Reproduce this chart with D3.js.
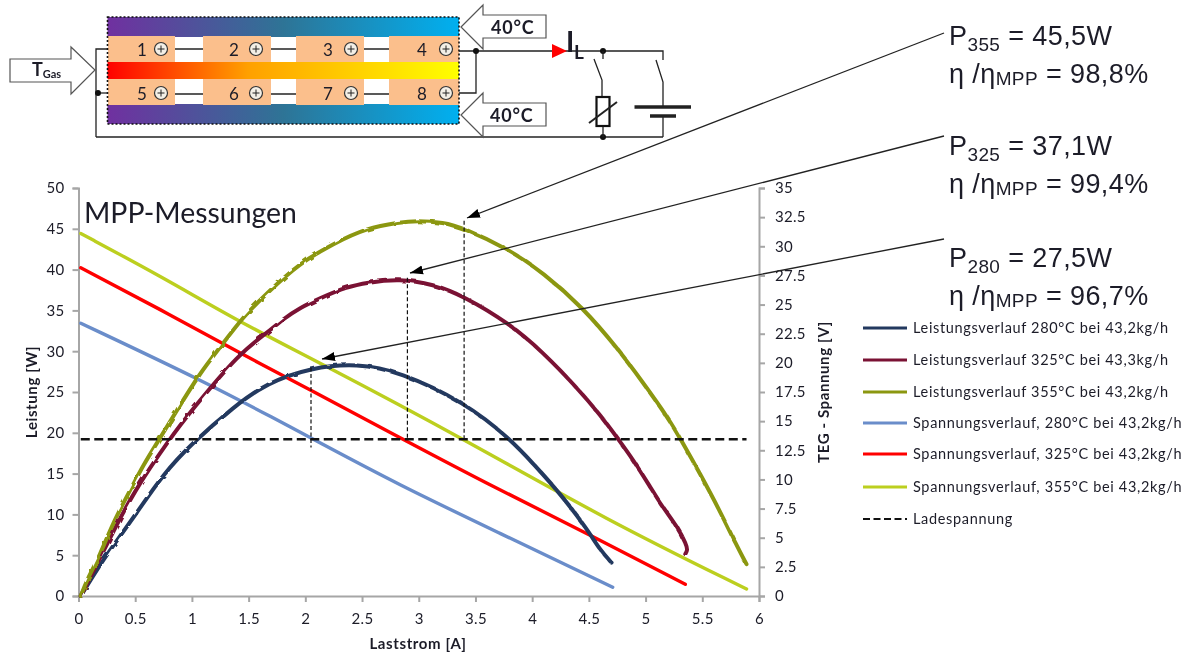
<!DOCTYPE html>
<html>
<head>
<meta charset="utf-8">
<script src="https://cdn.jsdelivr.net/npm/d3@7"></script>
<style>
  html, body { margin: 0; background: #fff; }
  svg { display: block; filter: blur(0.35px); }
  text { font-family: Lato, "Open Sans", sans-serif; fill: #1c1c28; }
  text.note { font-family: "Liberation Sans", sans-serif; }
  .domain, .tick line { stroke: #a6a6a6; stroke-width: 2; }
</style>
</head>
<body>
<svg id="chart" width="1190" height="657"></svg>
<script>
// power curves, left axis [W]
var i280 = [0.02, 0.16, 0.31, 0.5, 0.75, 1.0, 1.37, 1.66, 2.05, 2.46, 2.83, 3.4, 3.82, 4.02, 4.245, 4.49, 4.6, 4.7];
var p280 = [0, 3.2, 6.25, 9.9, 15.0, 18.7, 23.2, 26.1, 28.0, 28.5, 27.5, 23.8, 19.1, 16.05, 12.6, 8.1, 5.6, 4.1];
var i325 = [0.02, 0.18, 0.3, 0.48, 0.8, 1.0, 1.42, 1.66, 1.8, 1.95, 2.13, 2.37, 2.54, 2.83, 3.13, 3.39, 3.8, 4.1, 4.39, 4.6, 4.76, 4.89, 5.04, 5.15, 5.28, 5.36, 5.37, 5.35];
var p325 = [0, 4.4, 7.7, 12.6, 19.2, 22.8, 29.8, 32.2, 33.9, 35.3, 36.5, 37.9, 38.4, 38.9, 38.2, 36.8, 33.4, 29.8, 25.6, 22.2, 19.2, 16.7, 13.4, 10.9, 8.5, 6.3, 5.6, 5.15];
var i355 = [0.02, 0.075, 0.19, 0.3, 0.48, 0.57, 0.69, 0.87, 1.07, 1.25, 1.45, 1.66, 1.95, 2.25, 2.54, 2.83, 2.98, 3.22, 3.39, 3.78, 4.1, 4.45, 4.75, 4.98, 5.2, 5.31, 5.48, 5.66, 5.8, 5.89];
var p355 = [0, 2.0, 5.0, 8.9, 13.6, 16, 18.7, 22.8, 27.3, 30.5, 34.2, 37.1, 40.8, 43.2, 45.1, 45.8, 46.0, 45.8, 45.1, 42.6, 39.6, 35.3, 30.4, 26.1, 21.8, 19.2, 15, 10.3, 6.25, 3.9];

// voltage curves, right axis [V]
var iv280 = [0.02, 1.13, 1.75, 2.06, 2.83, 3.69, 4.71];
var v280 = [23.4, 18.3, 15.1, 13.5, 9.5, 5.5, 0.75];
var iv325 = [0.02, 0.72, 1.42, 2.04, 2.86, 3.66, 4.48, 5.35];
var v325 = [28.15, 24.6, 20.85, 17.7, 13.45, 9.35, 5.4, 1.0];
var iv355 = [0.02, 0.75, 1.42, 2.13, 3.4, 4.66, 5.89];
var v355 = [31.1, 27.3, 23.5, 20.0, 13.45, 6.5, 0.6];
var iLade = [0.02, 5.89];
var vLade = [13.45, 13.45];

var leftTicks = [0, 5, 10, 15, 20, 25, 30, 35, 40, 45, 50];
var rightTicks = [0, 2.5, 5, 7.5, 10, 12.5, 15, 17.5, 20, 22.5, 25, 27.5, 30, 32.5, 35];
var xTicks = [0, 0.5, 1, 1.5, 2, 2.5, 3, 3.5, 4, 4.5, 5, 5.5, 6];

var legendNames = [
  "Leistungsverlauf 280°C bei 43,2kg/h",
  "Leistungsverlauf 325°C bei 43,3kg/h",
  "Leistungsverlauf 355°C bei 43,2kg/h",
  "Spannungsverlauf, 280°C bei 43,2kg/h",
  "Spannungsverlauf, 325°C bei 43,2kg/h",
  "Spannungsverlauf, 355°C bei 43,2kg/h",
  "Ladespannung"
];
var seriesColors = ["#23395f", "#7a1234", "#8b9710", "#6a8dca", "#ff0000", "#bccf1f", "#111111"];

// MPP drop lines: current, top [W], bottom [W]
var mppI = [2.05, 2.9, 3.4];
var mppTop = [28.0, 39.0, 46.0];
var mppBottom = [18.2, 19.2, 19.2];

var notes = [
  { sub: "355", p: " = 45,5W", eta: " = 98,8%" },
  { sub: "325", p: " = 37,1W", eta: " = 99,4%" },
  { sub: "280", p: " = 27,5W", eta: " = 96,7%" }
];

var svg = d3.select("#chart");

var x = d3.scaleLinear().domain([0, 6]).range([78.5, 759]);
var yL = d3.scaleLinear().domain([0, 50]).range([596, 188]);
var yR = d3.scaleLinear().domain([0, 35]).range([596, 188]);

var defs = svg.append("defs");

function gradient(id, stops) {
  var g = defs.append("linearGradient").attr("id", id);
  stops.forEach(function(s) {
    g.append("stop").attr("offset", s[0]).attr("stop-color", s[1]);
  });
}
gradient("cold", [["0%", "#7030a0"], ["50%", "#2e7496"], ["100%", "#00b0f0"]]);
gradient("hot", [["0%", "#ff0000"], ["40%", "#ffa000"], ["100%", "#ffff00"]]);

// measured curves are a bit stepped
var rough = defs.append("filter").attr("id", "rough")
  .attr("filterUnits", "userSpaceOnUse")
  .attr("color-interpolation-filters", "sRGB")
  .attr("x", 0).attr("y", 0).attr("width", 1190).attr("height", 657);
rough.append("feTurbulence").attr("type", "fractalNoise").attr("baseFrequency", 0.12).attr("numOctaves", 1).attr("seed", 3);
rough.append("feDisplacementMap").attr("in", "SourceGraphic").attr("scale", 3.5);

defs.append("marker").attr("id", "head")
  .attr("markerUnits", "userSpaceOnUse")
  .attr("markerWidth", 14).attr("markerHeight", 10)
  .attr("refX", 13).attr("refY", 5).attr("orient", "auto")
  .append("path").attr("d", "M13,5L0,0.5L0,9.5Z").attr("fill", "#000");

// ---------- schematic ----------
var sch = svg.append("g");

function wire(pts, w) {
  sch.append("path").attr("d", d3.line()(pts))
    .attr("fill", "none").attr("stroke", "#222").attr("stroke-width", w || 1.3);
}
function dot(cx, cy) {
  sch.append("circle").attr("cx", cx).attr("cy", cy).attr("r", 3).attr("fill", "#111");
}
function arrow(pts) {
  sch.append("path").attr("d", d3.line()(pts) + "Z")
    .attr("fill", "#fff").attr("stroke", "#555").attr("stroke-width", 1.2);
}

sch.append("rect").attr("x", 107.5).attr("y", 17).attr("width", 351.5).attr("height", 20).attr("fill", "url(#cold)");
sch.append("rect").attr("x", 107.5).attr("y", 104).attr("width", 351.5).attr("height", 20).attr("fill", "url(#cold)");

wire([[96, 137], [96, 49], [108, 49]]);
wire([[96, 93], [108, 93]]);
wire([[96, 137], [663, 137]]);
wire([[175, 49], [389, 49]]);
wire([[175, 94], [389, 94]]);

var blockX = [108, 203, 296, 389];
var blockW = [67, 68, 68, 70];
var numX = [142, 234, 328, 422];
var plusX = [161, 256, 351, 446];

blockX.forEach(function(bx, k) {
  sch.append("rect").attr("x", bx).attr("y", 36).attr("width", blockW[k]).attr("height", 27).attr("fill", "#fbbf8c");
  sch.append("rect").attr("x", bx).attr("y", 79).attr("width", blockW[k]).attr("height", 26).attr("fill", "#fbbf8c");
  [[k + 1, 50], [k + 5, 94]].forEach(function(n) {
    sch.append("text").attr("x", numX[k]).attr("y", n[1] + 6).attr("text-anchor", "middle")
      .attr("font-size", 17).text(n[0]);
    sch.append("circle").attr("cx", plusX[k]).attr("cy", n[1] - 1).attr("r", 6.5)
      .attr("fill", "#f3efe6").attr("stroke", "#333").attr("stroke-width", 1.2);
    wire([[plusX[k] - 3.5, n[1] - 1], [plusX[k] + 3.5, n[1] - 1]], 1);
    wire([[plusX[k], n[1] - 4.5], [plusX[k], n[1] + 2.5]], 1);
  });
});

sch.append("rect").attr("x", 107.5).attr("y", 62).attr("width", 351.5).attr("height", 17).attr("fill", "url(#hot)");
sch.append("rect").attr("x", 107.5).attr("y", 17).attr("width", 351.5).attr("height", 107)
  .attr("fill", "none").attr("stroke", "#111").attr("stroke-width", 1.6).attr("stroke-dasharray", "2,2");

arrow([[10, 59], [71, 59], [71, 47], [95, 70], [71, 94], [71, 82], [10, 82]]);
sch.append("text").attr("x", 32).attr("y", 76).attr("font-weight", 700).attr("font-size", 18).text("T")
  .append("tspan").attr("font-size", 11).attr("dy", 2).text("Gas");

arrow([[461, 27], [483, 5], [483, 15], [546, 15], [546, 38], [483, 38], [483, 49]]);
arrow([[461, 115], [483, 93], [483, 103], [546, 103], [546, 126], [483, 126], [483, 137]]);
sch.append("text").attr("x", 491).attr("y", 34).attr("font-weight", 700).attr("font-size", 18).attr("letter-spacing", 0.8).text("40°C");
sch.append("text").attr("x", 490).attr("y", 122).attr("font-weight", 700).attr("font-size", 18).attr("letter-spacing", 0.8).text("40°C");

wire([[459, 51], [663, 51], [663, 60]]);
wire([[476, 51], [476, 93], [459, 93]]);
dot(476, 51); dot(98, 93); dot(603, 51); dot(603, 137);

sch.append("path").attr("d", "M552,44L567,51L552,58Z").attr("fill", "#ff0000");
sch.append("text").attr("x", 566).attr("y", 52).attr("font-weight", 700).attr("font-size", 28).attr("fill", "#111").text("I");
sch.append("text").attr("x", 574).attr("y", 59).attr("font-weight", 700).attr("font-size", 19).attr("fill", "#111").text("L");

wire([[603, 51], [603, 59]]);
wire([[594, 59], [602, 80], [602, 97]]);
wire([[603, 126], [603, 137]]);
sch.append("rect").attr("x", 596.5).attr("y", 97).attr("width", 13).attr("height", 29)
  .attr("fill", "#fff").attr("stroke", "#111").attr("stroke-width", 2.2);
wire([[589, 123], [617, 102]], 2);
wire([[656, 60], [663, 82], [663, 107]]);
wire([[663, 116], [663, 137]]);
wire([[634.5, 107], [691, 107]], 3.5);
wire([[650, 116], [676, 116]], 3.5);

// ---------- axes ----------
svg.append("g").attr("transform", "translate(78.5,0)")
  .call(d3.axisLeft(yL).tickValues(leftTicks).tickFormat(String).tickSize(6).tickPadding(8))
  .attr("font-size", 15);
svg.append("g").attr("transform", "translate(759,0)")
  .call(d3.axisRight(yR).tickValues(rightTicks).tickFormat(String).tickSize(6).tickPadding(10))
  .attr("font-size", 15);
svg.append("g").attr("transform", "translate(0,596)")
  .call(d3.axisBottom(x).tickValues(xTicks).tickFormat(String).tickSize(6).tickPadding(11))
  .attr("font-size", 15);
svg.selectAll(".tick text").attr("letter-spacing", 0.3).attr("fill", "#1c1c28");

svg.append("text").attr("x", 418).attr("y", 649).attr("text-anchor", "middle")
  .attr("font-weight", 700).attr("font-size", 15).attr("letter-spacing", 0.6).text("Laststrom [A]");
svg.append("text").attr("transform", "translate(37,392) rotate(-90)").attr("text-anchor", "middle")
  .attr("font-weight", 700).attr("font-size", 15).attr("letter-spacing", 0.6).text("Leistung [W]");
svg.append("text").attr("transform", "translate(829,392) rotate(-90)").attr("text-anchor", "middle")
  .attr("font-weight", 700).attr("font-size", 15).attr("letter-spacing", 0.6).text("TEG - Spannung [V]");
svg.append("text").attr("x", 84).attr("y", 223).attr("font-size", 28.4).text("MPP-Messungen");

// ---------- series ----------
var line = d3.line().curve(d3.curveBasis);

function pts(xs, ys, scale) {
  return xs.map(function(v, k) { return [x(v), scale(ys[k])]; });
}

var powerSeries = [[i280, p280], [i325, p325], [i355, p355]];
var voltSeries = [[iv280, v280], [iv325, v325], [iv355, v355]];

svg.append("g").selectAll("path").data(voltSeries).enter().append("path")
  .attr("d", function(d) { return line(pts(d[0], d[1], yR)); })
  .attr("fill", "none").attr("stroke-width", 3.4).attr("stroke-linecap", "round")
  .attr("stroke", function(d, k) { return seriesColors[k + 3]; });

svg.append("g").attr("filter", "url(#rough)").selectAll("path").data(powerSeries).enter().append("path")
  .attr("d", function(d) { return line(pts(d[0], d[1], yL)); })
  .attr("fill", "none").attr("stroke-width", 4).attr("stroke-linecap", "round")
  .attr("stroke", function(d, k) { return seriesColors[k]; });

svg.append("path").attr("d", d3.line()(pts(iLade, vLade, yR)))
  .attr("fill", "none").attr("stroke", "#111").attr("stroke-width", 2.4).attr("stroke-dasharray", "9,4.5");

svg.append("g").selectAll("line").data(mppI).enter().append("line")
  .attr("x1", function(d) { return x(d); }).attr("x2", function(d) { return x(d); })
  .attr("y1", function(d, k) { return yL(mppTop[k]); })
  .attr("y2", function(d, k) { return yL(mppBottom[k]); })
  .attr("stroke", "#111").attr("stroke-width", 1.2).attr("stroke-dasharray", "4,2.5");

// ---------- notes ----------
var noteY = [45, 155, 267];
var noteFrom = [[944, 33], [944, 136], [944, 239]];
var noteTip = [[467, 218], [410, 273], [322, 359]];

notes.forEach(function(n, k) {
  svg.append("line")
    .attr("x1", noteFrom[k][0]).attr("y1", noteFrom[k][1])
    .attr("x2", noteTip[k][0]).attr("y2", noteTip[k][1])
    .attr("stroke", "#222").attr("stroke-width", 1.3).attr("marker-end", "url(#head)");
  var t = svg.append("text").attr("class", "note").attr("x", 949).attr("y", noteY[k]).attr("font-size", 27).attr("letter-spacing", 0.4);
  t.append("tspan").text("P");
  t.append("tspan").attr("font-size", 19).attr("dy", 6).text(n.sub);
  t.append("tspan").attr("dy", -6).text(n.p);
  var e = svg.append("text").attr("class", "note").attr("x", 949).attr("y", noteY[k] + 38).attr("font-size", 27).attr("letter-spacing", 0.4);
  e.append("tspan").text("η /η");
  e.append("tspan").attr("font-size", 19).attr("dy", 2).text("MPP");
  e.append("tspan").attr("dy", -2).text(n.eta);
});

// ---------- legend ----------
var legendY = [328, 360, 392, 423, 454, 487, 519];
var legend = svg.append("g").selectAll("g").data(legendNames).enter().append("g")
  .attr("transform", function(d, k) { return "translate(0," + legendY[k] + ")"; });
legend.append("line").attr("x1", 863).attr("x2", 907)
  .attr("stroke", function(d, k) { return seriesColors[k]; })
  .attr("stroke-width", function(d, k) { return k == 6 ? 2 : 3.2; })
  .attr("stroke-dasharray", function(d, k) { return k == 6 ? "7,3.5" : null; });
legend.append("text").attr("x", 913).attr("y", 5).attr("font-size", 14.5).attr("letter-spacing", 0.66)
  .text(function(d) { return d; });
</script>
</body>
</html>
